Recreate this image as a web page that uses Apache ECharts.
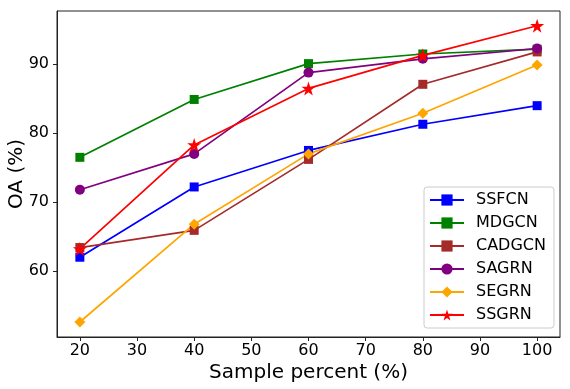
<!DOCTYPE html>
<html>
<head>
<meta charset="utf-8">
<script src="https://cdn.jsdelivr.net/npm/echarts@6/dist/echarts.min.js"></script>
<style>html,body{margin:0;padding:0;background:#fff}#c{width:570px;height:389px}</style>
</head>
<body>
<div id="c"></div>
<script>
const samplePercent = [20, 40, 60, 80, 100];
const SSFCN  = [62.0, 72.2, 77.5, 81.3, 84.0];
const MDGCN  = [76.5, 84.9, 90.1, 91.5, 92.2];
const CADGCN = [63.4, 65.9, 76.2, 87.1, 91.8];
const SAGRN  = [71.8, 77.0, 88.8, 90.8, 92.3];
const SEGRN  = [52.6, 66.8, 77.0, 82.9, 89.9];
const SSGRN  = [63.2, 78.3, 86.5, 91.3, 95.6];
const xTicks = [20, 30, 40, 50, 60, 70, 80, 90, 100];
const yTicks = [60, 70, 80, 90];
const seriesNames = ['SSFCN', 'MDGCN', 'CADGCN', 'SAGRN', 'SEGRN', 'SSGRN'];
const seriesValues = [SSFCN, MDGCN, CADGCN, SAGRN, SEGRN, SSGRN];

const colors = ['#0000ff', '#008000', '#a52a2a', '#800080', '#ffa500', '#ff0000'];
const star = 'path://M0,-1 L0.2245,-0.309 L0.951,-0.309 L0.3633,0.118 L0.5878,0.809 L0,0.382 L-0.5878,0.809 L-0.3633,0.118 L-0.951,-0.309 L-0.2245,-0.309 Z';
const symbols = ['rect', 'rect', 'rect', 'circle', 'diamond', star];
const sizes = [9, 9, 9, 10, 11, 14];

const chart = echarts.init(document.getElementById('c'), null, {renderer: 'canvas'});
const font = 'DejaVu Sans';
chart.setOption({
  animation: false,
  backgroundColor: '#fff',
  grid: {left: 57, right: 10, top: 11, bottom: 52, outerBoundsMode: 'none', containLabel: false, show: true, borderColor: '#222', borderWidth: 1, backgroundColor: 'transparent'},
  xAxis: {
    type: 'value', min: 16, max: 104,
    name: 'Sample percent (%)', nameLocation: 'middle', nameGap: 26, nameMoveOverlap: false,
    nameTextStyle: {fontFamily: font, fontSize: 20, color: '#000'},
    axisLine: {show: true, onZero: false, lineStyle: {color: '#222', width: 1}},
    axisTick: {show: true, length: 4, lineStyle: {color: '#222'}, customValues: xTicks},
    axisLabel: {fontFamily: font, fontSize: 16, color: '#000', margin: 6, customValues: xTicks},
    splitLine: {show: false}
  },
  yAxis: {
    type: 'value', min: 50.42, max: 97.74,
    name: 'OA (%)', nameLocation: 'middle', nameGap: 30, nameMoveOverlap: false,
    nameTextStyle: {fontFamily: font, fontSize: 20, color: '#000'},
    axisLine: {show: true, onZero: false, lineStyle: {color: '#222', width: 1}},
    axisTick: {show: true, length: 4, lineStyle: {color: '#222'}, customValues: yTicks},
    axisLabel: {fontFamily: font, fontSize: 16, color: '#000', margin: 8, customValues: yTicks},
    splitLine: {show: false}
  },
  legend: {
    orient: 'vertical', left: 424, top: 187,
    itemWidth: 34, itemHeight: 14, itemGap: 7,
    padding: [5, 8, 5, 5],
    borderColor: '#ccc', borderWidth: 1, borderRadius: 3,
    backgroundColor: 'rgba(255,255,255,0.8)',
    textStyle: {fontFamily: font, fontSize: 16, color: '#000', lineHeight: 16, padding: [0, 0, 0, 7]},
    data: seriesNames
  },
  series: seriesNames.map((n, i) => ({
    name: n, type: 'line',
    data: samplePercent.map((x, j) => [x, seriesValues[i][j]]),
    symbol: symbols[i], symbolSize: sizes[i],
    lineStyle: {color: colors[i], width: 1.7},
    itemStyle: {color: colors[i]},
    showAllSymbol: true
  }))
});
</script>
</body>
</html>
